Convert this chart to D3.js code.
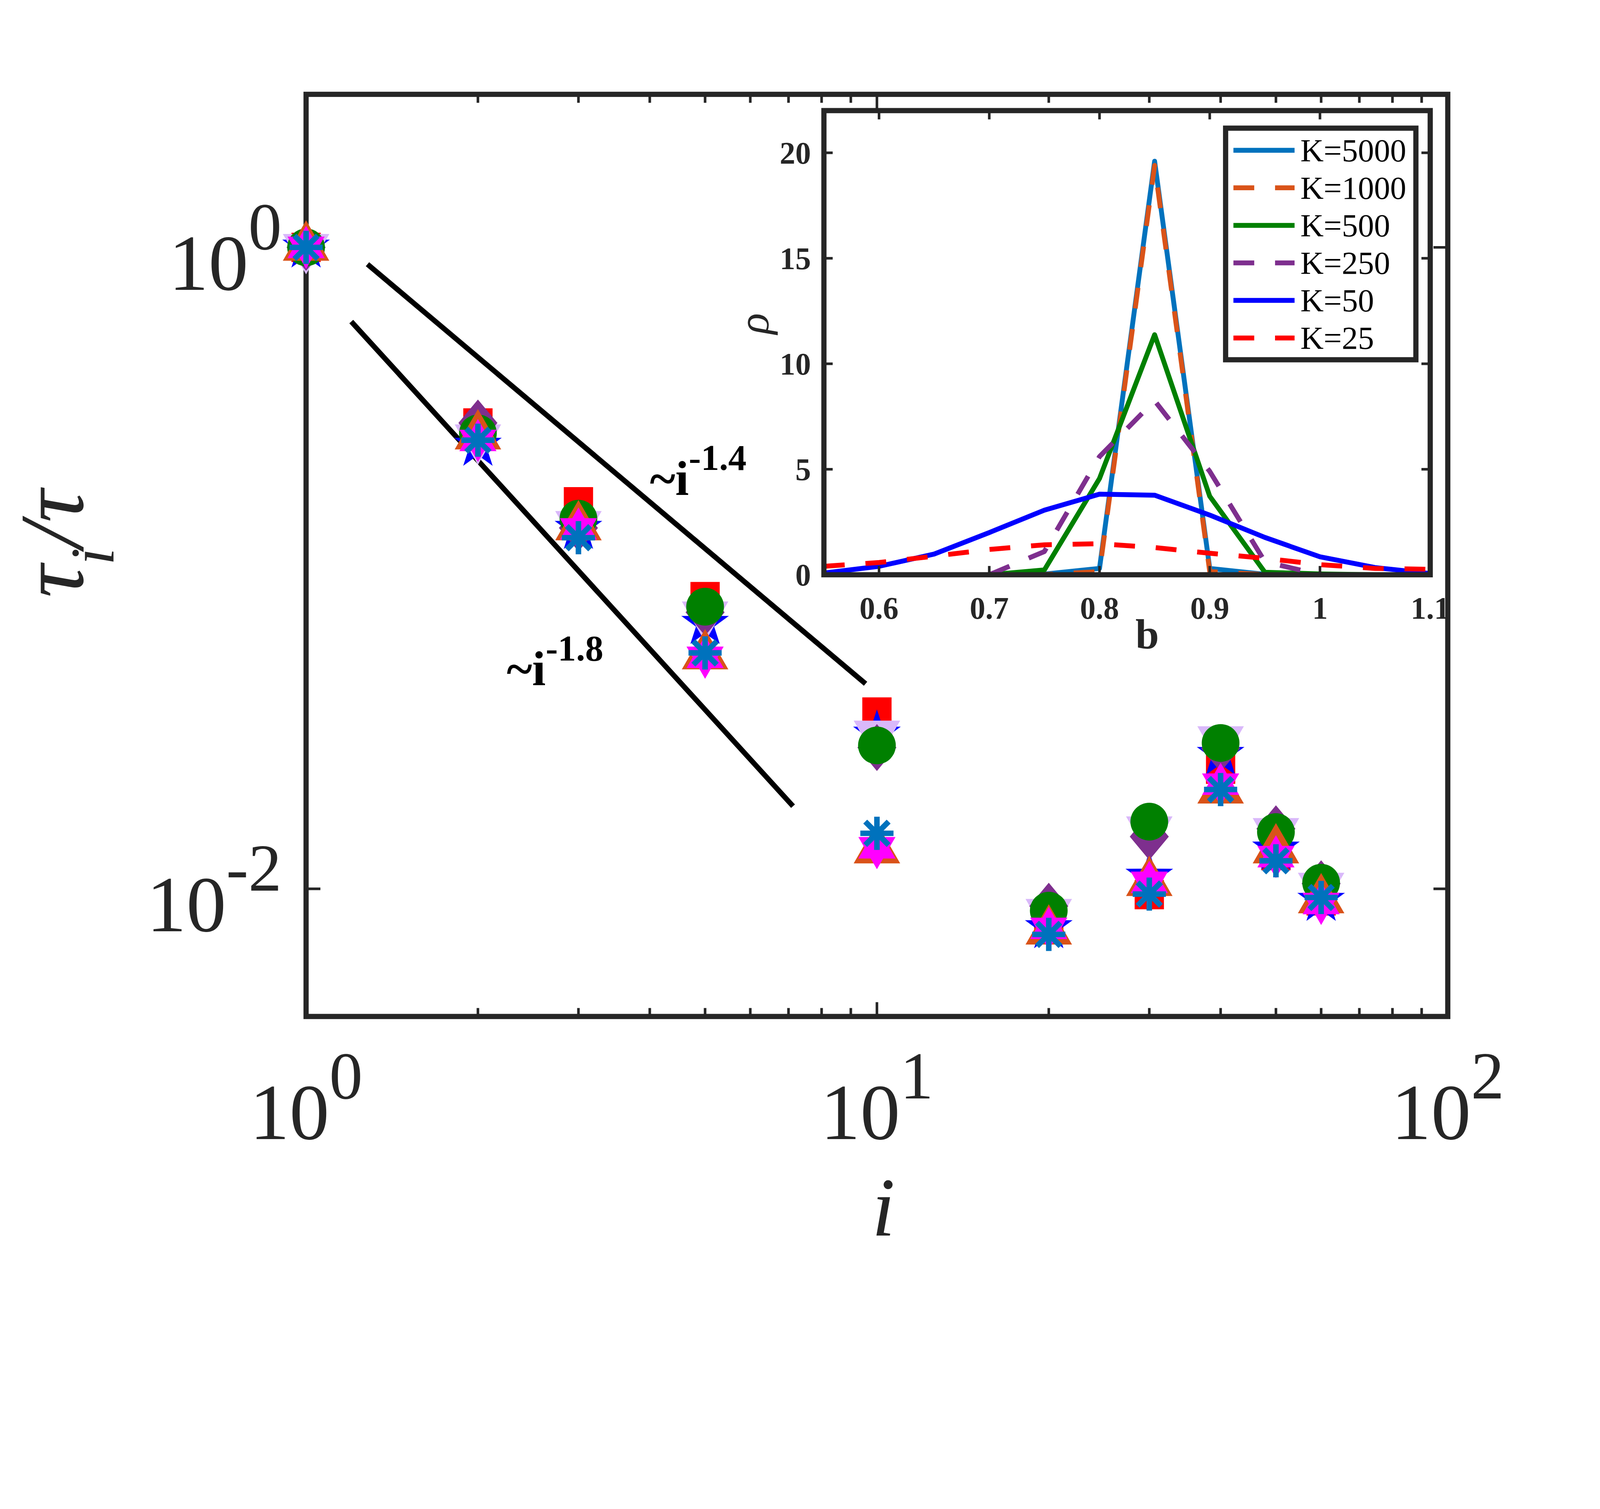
<!DOCTYPE html>
<html><head><meta charset="utf-8">
<script src="https://cdn.jsdelivr.net/npm/d3@7"></script>
<style>html,body{margin:0;padding:0;background:#fff;overflow:hidden}svg{display:block;width:100vw;height:auto}</style>
</head><body>
<script>
// ---------------- DATA ----------------
const iValues = [1, 2, 3, 5, 10, 20, 30, 40, 50, 60];
const redSquare      = [1, 0.2835, 0.161, 0.0815, 0.0356, 0.0075, 0.00959, 0.0236, 0.0127, 0.00917];
const bluePentagram  = [1, 0.241, 0.1327, 0.0671, 0.0303, 0.00755, 0.01093, 0.0262, 0.01328, 0.00919];
const lavenderTriDown= [1, 0.255, 0.1369, 0.0715, 0.0304, 0.00845, 0.01528, 0.0292, 0.0151, 0.0102];
const purpleDiamond  = [1, 0.2835, 0.1334, 0.0728, 0.02757, 0.00883, 0.01455, 0.0274, 0.0154, 0.01038];
const greenCircle    = [1, 0.263, 0.1426, 0.0758, 0.0280, 0.00855, 0.0162, 0.0285, 0.01503, 0.01045];
const orangeTriUp    = [1, 0.258, 0.1343, 0.0532, 0.01321, 0.00738, 0.01045, 0.0203, 0.01321, 0.00923];
const magentaHexagram= [1, 0.250, 0.1325, 0.0527, 0.01343, 0.00753, 0.01048, 0.0212, 0.0126, 0.0090];
const blueAsterisk   = [1, 0.2505, 0.1244, 0.0544, 0.0149, 0.00721, 0.00963, 0.0204, 0.01223, 0.0094];

const fitUpper = [[1.281, 0.886], [9.552, 0.0436]];
const fitLower = [[1.200, 0.587], [7.129, 0.0181]];
const fitUpperLabel = ["~i", "-1.4"];
const fitLowerLabel = ["~i", "-1.8"];

const xMajorTicks = [1, 10, 100];
const xTickExps = ["0", "1", "2"];
const yMajorTicks = [1, 0.01];
const yTickExps = ["0", "-2"];

// inset
const bValues = [0.55, 0.6, 0.65, 0.7, 0.75, 0.8, 0.85, 0.9, 0.95, 1.0, 1.05, 1.1];
const k5000 = [0, 0, 0, 0, 0.03, 0.3, 19.6, 0.3, 0.02, 0, 0, 0];
const k1000 = [0, 0, 0, 0, 0.01, 0.15, 19.4, 0.15, 0.01, 0, 0, 0];
const k500  = [0, 0, 0, 0, 0.23, 4.56, 11.38, 3.72, 0.12, 0.04, 0, 0];
const k250  = [0, 0, 0, 0, 1.1, 5.6, 8.25, 4.9, 0.62, 0, 0, 0];
const k50   = [0.08, 0.4, 0.98, 2.0, 3.06, 3.82, 3.77, 2.83, 1.77, 0.85, 0.34, 0.06];
const k25   = [0.4, 0.58, 0.88, 1.2, 1.42, 1.47, 1.29, 1.02, 0.78, 0.48, 0.3, 0.26];
const legendLabels = ["K=5000", "K=1000", "K=500", "K=250", "K=50", "K=25"];
const insetXTicks = [0.6, 0.7, 0.8, 0.9, 1, 1.1];
const insetXTickLabels = ["0.6", "0.7", "0.8", "0.9", "1", "1.1"];
const insetYTicks = [0, 5, 10, 15, 20];

// ---------------- STYLE ----------------
const W = 4919, H = 3863;
const AX = "#262626";
const SERIF = "Liberation Serif, Times New Roman, serif";

const svg = d3.select("body").append("svg")
  .attr("viewBox", `0 0 ${W} ${H}`).attr("preserveAspectRatio", "xMidYMin meet");
svg.append("rect").attr("width", W).attr("height", H).attr("fill", "#fff");

// main scales
const x = d3.scaleLog().domain([1, 100]).range([941, 4451]);
const y = d3.scaleLog().domain([0.004, 3]).range([3125, 290]);
const [xl, xr] = x.range(), [yb, yt] = y.range();

// ---- main axes box & ticks
const gAx = svg.append("g");
gAx.append("rect").attr("x", xl).attr("y", yt).attr("width", xr - xl).attr("height", yb - yt)
  .attr("fill", "none").attr("stroke", AX).attr("stroke-width", 16);

const minorX = [];
[1, 10].forEach(d => { for (let k = 2; k <= 9; k++) minorX.push(d * k); });
const tickG = gAx.append("g").attr("stroke", AX).attr("stroke-width", 8);
minorX.forEach(v => {
  tickG.append("line").attr("x1", x(v)).attr("x2", x(v)).attr("y1", yb).attr("y2", yb - 26);
  tickG.append("line").attr("x1", x(v)).attr("x2", x(v)).attr("y1", yt).attr("y2", yt + 26);
});
xMajorTicks.forEach(v => {
  tickG.append("line").attr("x1", x(v)).attr("x2", x(v)).attr("y1", yb).attr("y2", yb - 44);
  tickG.append("line").attr("x1", x(v)).attr("x2", x(v)).attr("y1", yt).attr("y2", yt + 44);
});
yMajorTicks.forEach(v => {
  tickG.append("line").attr("y1", y(v)).attr("y2", y(v)).attr("x1", xl).attr("x2", xl + 44);
  tickG.append("line").attr("y1", y(v)).attr("y2", y(v)).attr("x1", xr).attr("x2", xr - 44);
});

// tick labels
xMajorTicks.forEach((v, k) => {
  const t = svg.append("text").attr("x", x(v)).attr("y", 3502).attr("text-anchor", "middle")
    .attr("font-family", SERIF).attr("font-size", 245).attr("fill", AX);
  t.append("tspan").text("10");
  t.append("tspan").attr("dy", -125).attr("font-size", 205).text(xTickExps[k]);
});
yMajorTicks.forEach((v, k) => {
  const t = svg.append("text").attr("x", 866).attr("y", y(v) + 131).attr("text-anchor", "end")
    .attr("font-family", SERIF).attr("font-size", 245).attr("fill", AX);
  t.append("tspan").text("10");
  t.append("tspan").attr("dy", -125).attr("font-size", 205).text(yTickExps[k]);
});

// axis labels
svg.append("text").attr("x", 2716).attr("y", 3798).attr("text-anchor", "middle")
  .attr("font-family", SERIF).attr("font-style", "italic").attr("font-size", 258).attr("fill", AX).text("i");
{
  const t = svg.append("text").attr("transform", "translate(255,1672) rotate(-90)")
    .attr("text-anchor", "middle").attr("font-family", SERIF).attr("font-style", "italic")
    .attr("font-size", 280).attr("fill", AX);
  t.append("tspan").text("τ");
  t.append("tspan").attr("dy", 95).attr("font-size", 190).text("i");
  t.append("tspan").attr("dy", -95).text("/τ");
}

// ---- power-law guide lines
const lineMain = d3.line().x(d => x(d[0])).y(d => y(d[1]));
[fitUpper, fitLower].forEach(f => {
  svg.append("path").attr("d", lineMain(f)).attr("fill", "none").attr("stroke", "#000").attr("stroke-width", 16);
});
function powerLabel(px, py, lab) {
  const t = svg.append("text").attr("x", px).attr("y", py).attr("font-family", SERIF)
    .attr("font-weight", "bold").attr("font-size", 150).attr("fill", "#000");
  t.append("tspan").text(lab[0]);
  t.append("tspan").attr("dy", -76).attr("font-size", 112).text(lab[1]);
}
powerLabel(1998, 1521, fitUpperLabel);
powerLabel(1558, 2107, fitLowerLabel);

// ---- markers
function star(n, R, r) {
  const pts = [];
  for (let k = 0; k < 2 * n; k++) {
    const a = -Math.PI / 2 + k * Math.PI / n;
    const rr = k % 2 === 0 ? R : r;
    pts.push([rr * Math.cos(a), rr * Math.sin(a)]);
  }
  return "M" + pts.map(p => p[0].toFixed(2) + "," + p[1].toFixed(2)).join("L") + "Z";
}
const shapes = {
  square: "M-45,-45H45V45H-45Z",
  pentagram: star(5, 77, 29.5),
  triDown: "M-71.5,-41L71.5,-41L0,83Z",
  diamond: "M0,-72L60,0L0,72L-60,0Z",
  circle: "M58,0A58,58 0 1,1 -58,0A58,58 0 1,1 58,0Z",
  triUp: "M0,-83L71.5,41L-71.5,41Z",
  hexagram: star(6, 66, 38),
  asterisk: "M0,-51V51M-51,0H51M-36,-36L36,36M36,-36L-36,36"
};
const series = [
  {vals: redSquare, shape: "square", color: "#FF0000"},
  {vals: bluePentagram, shape: "pentagram", color: "#0000FF"},
  {vals: lavenderTriDown, shape: "triDown", color: "#D9B8FA"},
  {vals: purpleDiamond, shape: "diamond", color: "#7E2F8E"},
  {vals: greenCircle, shape: "circle", color: "#008000"},
  {vals: orangeTriUp, shape: "triUp", color: "#D95319"},
  {vals: magentaHexagram, shape: "hexagram", color: "#FF00FF"},
  {vals: blueAsterisk, shape: "asterisk", color: "#0072BD"}
];
series.forEach(s => {
  const g = svg.append("g");
  g.selectAll("path").data(iValues.map((v, k) => [v, s.vals[k]])).enter().append("path")
    .attr("transform", d => `translate(${x(d[0])},${y(d[1])})`)
    .attr("d", shapes[s.shape])
    .attr("fill", s.shape === "asterisk" ? "none" : s.color)
    .attr("stroke", s.shape === "asterisk" ? s.color : "none")
    .attr("stroke-width", s.shape === "asterisk" ? 17 : 0);
});

// ---------------- INSET ----------------
const bx = d3.scaleLinear().domain([0.55, 1.1]).range([2533, 4397]);
const ry = d3.scaleLinear().domain([0, 22]).range([1767, 340]);
const [ixl, ixr] = bx.range(), [iyb, iyt] = ry.range();
const ig = svg.append("g");
ig.append("rect").attr("x", ixl).attr("y", iyt).attr("width", ixr - ixl).attr("height", iyb - iyt).attr("fill", "#fff");
svg.append("clipPath").attr("id", "insetClip").append("rect")
  .attr("x", ixl).attr("y", iyt).attr("width", ixr - ixl).attr("height", iyb - iyt);

const insetSeries = [
  {vals: k5000, color: "#0072BD", dash: null},
  {vals: k1000, color: "#D95319", dash: "64,64"},
  {vals: k500, color: "#008000", dash: null},
  {vals: k250, color: "#7E2F8E", dash: "64,64"},
  {vals: k50, color: "#0000FF", dash: null},
  {vals: k25, color: "#FF0000", dash: "64,64"}
];
const lineInset = d3.line().x(d => bx(d[0])).y(d => ry(d[1]));
const curves = ig.append("g").attr("clip-path", "url(#insetClip)");
insetSeries.forEach(s => {
  curves.append("path").attr("d", lineInset(bValues.map((b, k) => [b, s.vals[k]])))
    .attr("fill", "none").attr("stroke", s.color).attr("stroke-width", 15)
    .attr("stroke-linejoin", "round").attr("stroke-dasharray", s.dash);
});
ig.append("rect").attr("x", ixl).attr("y", iyt).attr("width", ixr - ixl).attr("height", iyb - iyt)
  .attr("fill", "none").attr("stroke", AX).attr("stroke-width", 16);
const itk = ig.append("g").attr("stroke", AX).attr("stroke-width", 8);
insetXTicks.forEach(v => {
  itk.append("line").attr("x1", bx(v)).attr("x2", bx(v)).attr("y1", iyb).attr("y2", iyb - 27);
  itk.append("line").attr("x1", bx(v)).attr("x2", bx(v)).attr("y1", iyt).attr("y2", iyt + 27);
});
insetYTicks.forEach(v => {
  itk.append("line").attr("y1", ry(v)).attr("y2", ry(v)).attr("x1", ixl).attr("x2", ixl + 27);
  itk.append("line").attr("y1", ry(v)).attr("y2", ry(v)).attr("x1", ixr).attr("x2", ixr - 27);
});
insetXTicks.forEach((v, k) => {
  ig.append("text").attr("x", bx(v)).attr("y", 1902).attr("text-anchor", "middle")
    .attr("font-family", SERIF).attr("font-weight", "bold").attr("font-size", 96).attr("fill", AX)
    .text(insetXTickLabels[k]);
});
insetYTicks.forEach(v => {
  ig.append("text").attr("x", 2493).attr("y", ry(v) + 33).attr("text-anchor", "end")
    .attr("font-family", SERIF).attr("font-weight", "bold").attr("font-size", 96).attr("fill", AX)
    .text(String(v));
});
ig.append("text").attr("transform", "translate(2362,995) rotate(-90)").attr("text-anchor", "middle")
  .attr("font-family", SERIF).attr("font-style", "italic").attr("font-size", 135).attr("fill", AX).text("ρ");
ig.append("text").attr("x", 3527).attr("y", 1993).attr("text-anchor", "middle")
  .attr("font-family", SERIF).attr("font-weight", "bold").attr("font-size", 130).attr("fill", AX).text("b");

// legend
const lg = ig.append("g");
lg.append("rect").attr("x", 3768).attr("y", 394).attr("width", 585).attr("height", 712)
  .attr("fill", "#fff").attr("stroke", AX).attr("stroke-width", 16);
legendLabels.forEach((lab, k) => {
  const ly = 462 + k * 115.4;
  lg.append("line").attr("x1", 3792).attr("x2", 3980).attr("y1", ly).attr("y2", ly)
    .attr("stroke", insetSeries[k].color).attr("stroke-width", 15)
    .attr("stroke-dasharray", insetSeries[k].dash);
  lg.append("text").attr("x", 3998).attr("y", ly + 34).attr("font-family", SERIF)
    .attr("font-size", 99).attr("fill", "#000").text(lab);
});
</script>
</body></html>
